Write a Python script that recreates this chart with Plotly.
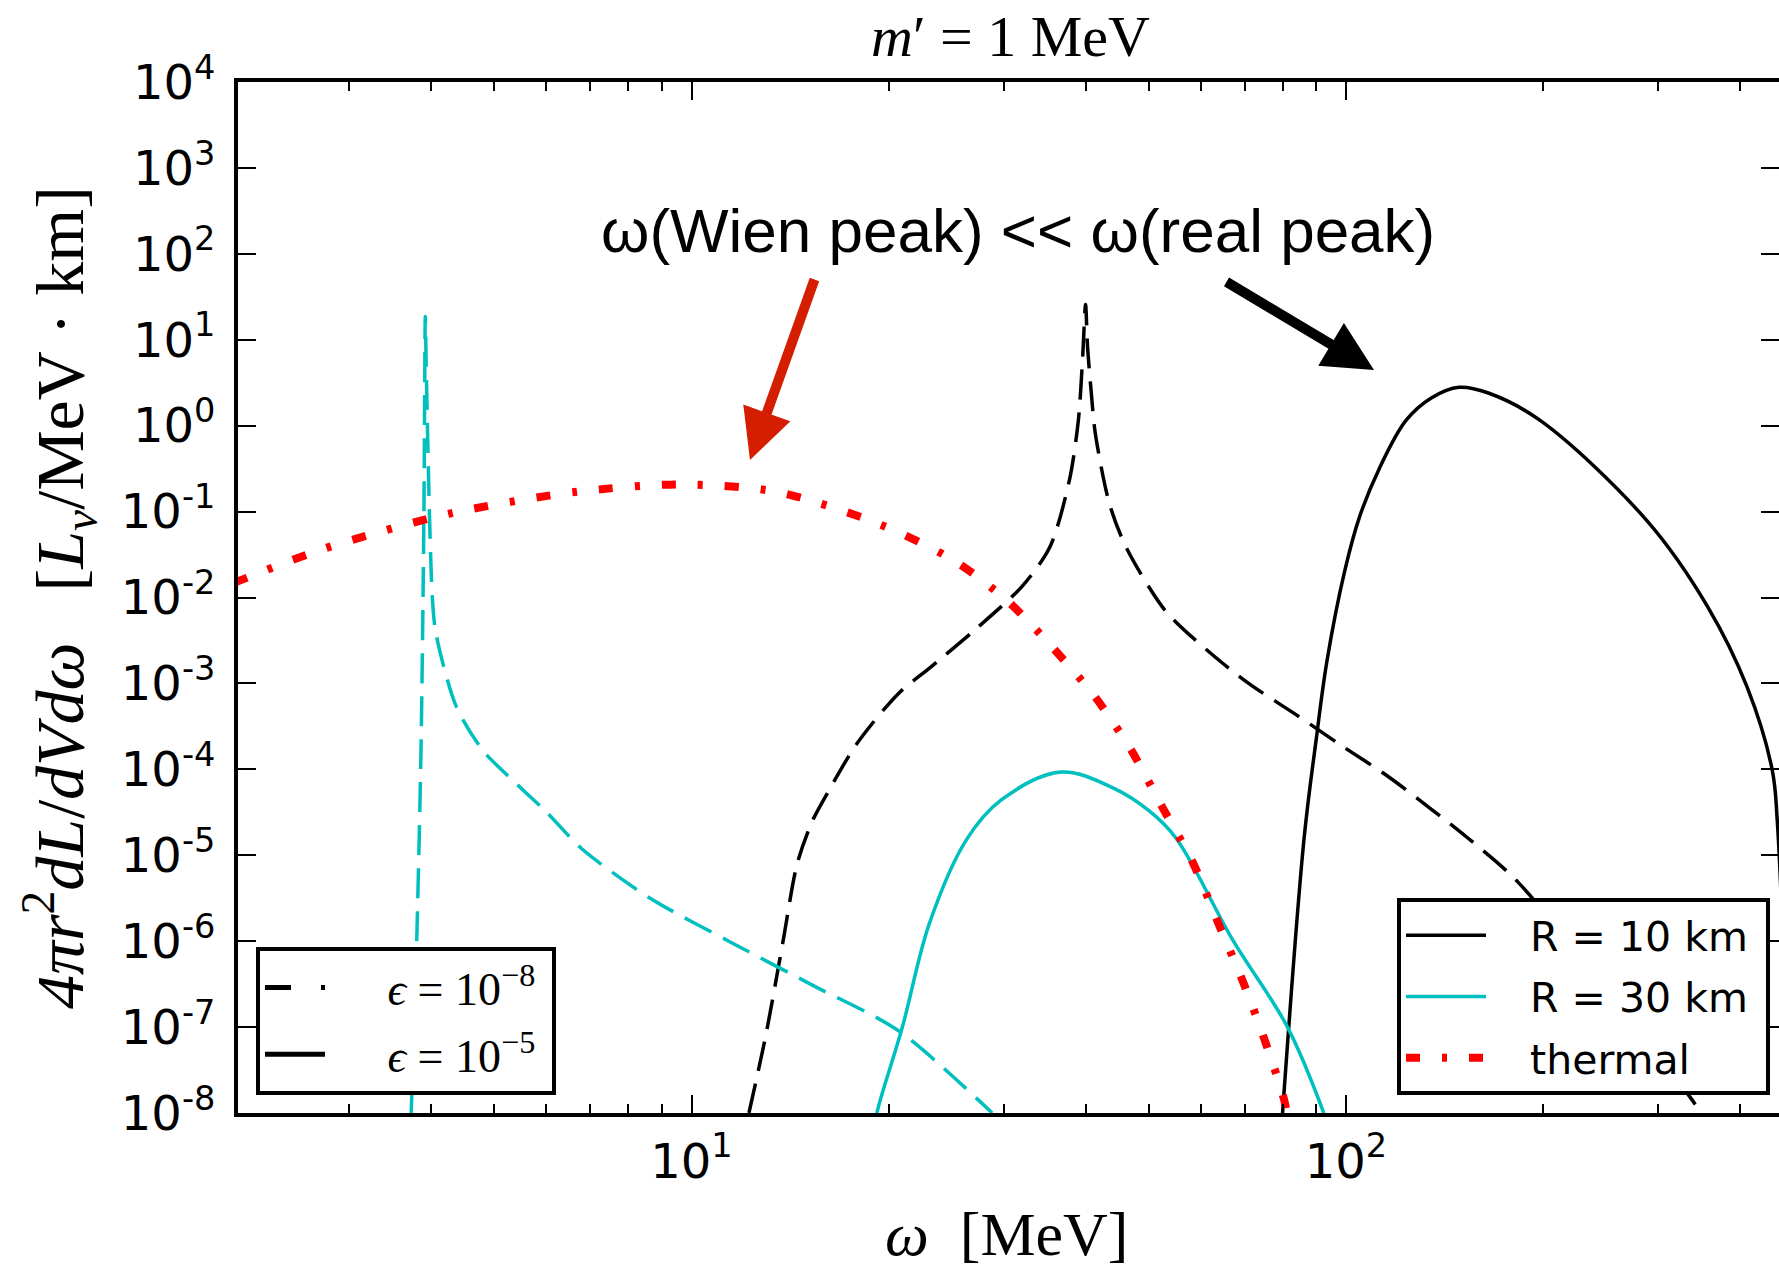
import math
import plotly.graph_objects as go

# ---------------- data ----------------
# thermal spectrum (red dash-dot)
w_thermal = [2.0, 2.75, 4.29, 6.68, 9.6, 13.5, 19.4, 25.3, 30.5, 35.7, 41.4, 47.0,
             52.4, 58.4, 63.9, 69.8, 75.4, 80.7, 82.0]
L_thermal = [1.48e-2, 3.72e-2, 9.55e-2, 0.170, 0.207, 0.170, 7.1e-2, 2.63e-2, 8.9e-3,
             2.57e-3, 6.9e-4, 1.66e-4, 3.63e-5, 8.1e-6, 1.58e-6, 3.2e-7, 6.5e-8,
             1.29e-8, 5.0e-9]

# R = 30 km, eps = 1e-5 (cyan solid)
w_r30_e5 = [19.1, 19.2, 21.0, 23.1, 26.3, 29.7, 36.7, 44.2, 50.0, 55.0, 67.2, 81.4, 92.5]
L_r30_e5 = [7e-9, 1.0e-8, 1.0e-7, 1.62e-6, 1.51e-5, 4.37e-5, 9.3e-5, 6.0e-5, 3.3e-5,
            1.58e-5, 1.02e-6, 1.0e-7, 1.0e-8]

# R = 30 km, eps = 1e-8 (cyan dashed)
w_r30_e8 = [3.73, 3.80, 3.86, 3.90, 3.92, 3.93, 3.98, 4.02, 4.07, 4.37, 4.8, 5.25,
            6.0, 6.79, 8.62, 11.4, 15.4, 20.7, 28.8]
L_r30_e8 = [1.0e-8, 7.9e-7, 1.5e-4, 7.9e-2, 18.6, 6.3, 7.9e-2, 9.3e-3, 3.8e-3, 5.4e-4,
            1.66e-4, 8.3e-5, 3.2e-5, 1.2e-5, 3.2e-6, 1.0e-6, 3.0e-7, 9.1e-8, 1.0e-8]

# R = 10 km, eps = 1e-8 (black dashed)
w_r10_e8 = [12.24, 13.0, 13.8, 14.5, 15.3, 16.2, 17.9, 20.7, 23.2, 27.1, 32.0, 35.3,
            37.8, 39.0, 39.6, 40.0, 40.3, 40.8, 41.4, 43.5, 46.1, 52.9, 61.3, 71.0,
            84.0, 98.3, 116.4, 134.6, 153.0, 183.0, 336.0, 352.0]
L_r10_e8 = [1.0e-8, 8.3e-8, 1.0e-6, 7.9e-6, 2.5e-5, 5.6e-5, 2.0e-4, 7.6e-4, 1.55e-3,
            4.2e-3, 1.35e-2, 3.9e-2, 0.234, 1.15, 6.3, 25.7, 7.9, 2.5, 0.81, 0.124,
            3.9e-2, 7.1e-3, 2.45e-3, 1.0e-3, 4.3e-4, 1.9e-4, 8.1e-5, 3.5e-5, 1.62e-5,
            4.9e-6, 1.51e-8, 8.9e-9]

# R = 10 km, eps = 1e-5 (black solid)
w_r10_e5 = [80.0, 86.3, 90.1, 93.5, 99.5, 105.0, 112.5, 123.5, 135.0, 148.8, 165.0,
            198.0, 288.0, 357.0, 410.0, 448.0, 456.0, 480.0]
L_r10_e5 = [1.0e-8, 1.58e-5, 2.3e-4, 1.8e-3, 2.0e-2, 0.089, 0.32, 1.15, 2.1, 2.8, 2.4,
            1.15, 7.9e-2, 7.8e-3, 9.1e-4, 9.8e-5, 2.5e-5, 1e-9]

y_tick_exps = list(range(-8, 5))
x_major = [10, 100]
x_major_text = ["10<sup>1</sup>", "10<sup>2</sup>"]
x_minor = [2, 3, 4, 5, 6, 7, 8, 9, 20, 30, 40, 50, 60, 70, 80, 90, 200, 300, 400]

NB = "\u00a0"
legend_main = ["R = 10 km", "R = 30 km", "thermal"]
legend_eps = ["<i>ϵ</i> = 10<sup>−8</sup>", "<i>ϵ</i> = 10<sup>−5</sup>"]

# ---------------- layout geometry ----------------
W, H = 1779, 1274
PL, PR, PT, PB = 238, 1779, 82, 1113
X_LEFT_LOG = 0.3071          # axis starts just above omega = 2 MeV
X_RIGHT_LOG = 2.6616         # axis is cut by the right image edge


def px(xp):
    return (xp - PL) / (PR - PL)


def py(yp):
    return (PB - yp) / (PB - PT)


CYAN = "#00bfbf"
RED = "#ff0000"
DASH = "30px,13px"
THERMAL_DASH = "14px,22px,5px,22px"
SANS = "DejaVu Sans, Liberation Sans, sans-serif"
SERIF = "Liberation Serif, DejaVu Serif, serif"

fig = go.Figure()

fig.add_trace(go.Scatter(x=w_r10_e8, y=L_r10_e8, mode="lines",
                         line=dict(color="black", width=3.5, dash=DASH,
                                   shape="spline", smoothing=0.8),
                         showlegend=False))
fig.add_trace(go.Scatter(x=w_r30_e8, y=L_r30_e8, mode="lines",
                         line=dict(color=CYAN, width=3.5, dash=DASH,
                                   shape="spline", smoothing=0.8),
                         showlegend=False))
fig.add_trace(go.Scatter(x=w_r10_e5, y=L_r10_e5, mode="lines",
                         name=NB * 3 + legend_main[0] + NB,
                         line=dict(color="black", width=3.5, shape="spline", smoothing=1.0),
                         legend="legend", legendgroup="a"))
fig.add_trace(go.Scatter(x=w_r30_e5, y=L_r30_e5, mode="lines",
                         name=NB * 3 + legend_main[1] + NB,
                         line=dict(color=CYAN, width=3.5, shape="spline", smoothing=1.0),
                         legend="legend", legendgroup="b"))
fig.add_trace(go.Scatter(x=w_thermal, y=L_thermal, mode="lines",
                         name=NB * 3 + legend_main[2],
                         line=dict(color=RED, width=8, dash=THERMAL_DASH,
                                   shape="spline", smoothing=0.8),
                         legend="legend", legendgroup="c"))
# proxy entries for the epsilon legend
fig.add_trace(go.Scatter(x=[None], y=[None], mode="lines",
                         name=NB * 5 + legend_eps[0] + NB,
                         line=dict(color="black", width=5, dash="26px,30px"),
                         legend="legend2", legendgroup="d"))
fig.add_trace(go.Scatter(x=[None], y=[None], mode="lines",
                         name=NB * 5 + legend_eps[1] + NB,
                         line=dict(color="black", width=5),
                         legend="legend2", legendgroup="e"))
# empty trace that carries the right-hand tick axis
fig.add_trace(go.Scatter(x=[None], y=[None], yaxis="y2", mode="lines",
                         showlegend=False, hoverinfo="skip"))

tickfont = dict(family=SANS, size=48, color="black")
y_vals = [10.0 ** e for e in y_tick_exps]

fig.update_xaxes(type="log", range=[X_LEFT_LOG, X_RIGHT_LOG],
                 tickmode="array", tickvals=x_major, ticktext=x_major_text,
                 ticks="inside", ticklen=18, tickwidth=2, tickcolor="black",
                 ticklabelstandoff=3, tickfont=tickfont,
                 showgrid=False, zeroline=False, showline=True, linewidth=4,
                 linecolor="black", mirror="ticks",
                 minor=dict(tickmode="array", tickvals=x_minor, ticks="inside",
                            ticklen=9, tickwidth=2, tickcolor="black"))

fig.update_layout(
    yaxis=dict(type="log", range=[-8, 4], tickmode="array", tickvals=y_vals,
               ticktext=["10<sup>%d</sup>" % e for e in y_tick_exps],
               ticks="inside", ticklen=18, tickwidth=2, tickcolor="black",
               ticklabelstandoff=9, tickfont=tickfont,
               showgrid=False, zeroline=False, showline=True, linewidth=4,
               linecolor="black", mirror=False),
    yaxis2=dict(type="log", range=[-8, 4], overlaying="y", side="right",
                tickmode="array", tickvals=y_vals, showticklabels=False,
                ticks="inside", ticklen=18, tickwidth=2, tickcolor="black",
                showgrid=False, zeroline=False, showline=False),
)

annotations = [
    dict(text="<i>m</i>′ = 1 MeV", x=px(1010), y=py(37), xref="paper", yref="paper",
         showarrow=False, xanchor="center", yanchor="middle",
         font=dict(family=SERIF, size=58, color="black")),
    dict(text="<i>ω</i>  [MeV]", x=px(1007), y=py(1234), xref="paper", yref="paper",
         showarrow=False, xanchor="center", yanchor="middle",
         font=dict(family=SERIF, size=62, color="black")),
    dict(text="<i>4πr</i><sup>2</sup><i>dL</i>/<i>dVdω</i>   [<i>L<sub>ν</sub></i>/MeV · km]",
         x=px(59), y=py(598), xref="paper", yref="paper", textangle=-90,
         showarrow=False, xanchor="center", yanchor="middle",
         font=dict(family=SERIF, size=68, color="black")),
    dict(text="ω(Wien peak) << ω(real peak)", x=px(1018), y=py(230),
         xref="paper", yref="paper", showarrow=False, xanchor="center", yanchor="middle",
         font=dict(family="Liberation Sans, Arial, sans-serif", size=62, color="black")),
    dict(text="", x=px(750), y=py(460), xref="paper", yref="paper",
         showarrow=True, ax=65, ay=-182, arrowhead=2, arrowsize=1.0, arrowwidth=10,
         arrowcolor="#d51e00", standoff=0),
    dict(text="", x=px(1374), y=py(370), xref="paper", yref="paper",
         showarrow=True, ax=-149, ay=-89, arrowhead=2, arrowsize=1.0, arrowwidth=10,
         arrowcolor="black", standoff=0),
]

fig.update_layout(
    width=W, height=H, autosize=False,
    margin=dict(l=PL, r=W - PR, t=PT, b=H - PB, pad=0),
    paper_bgcolor="white", plot_bgcolor="white",
    font=dict(family=SANS, color="black"),
    annotations=annotations,
    legend=dict(x=px(1770), y=py(1095), xanchor="right", yanchor="bottom",
                bgcolor="white", bordercolor="black", borderwidth=4,
                font=dict(family=SANS, size=41, color="black"),
                itemwidth=80, tracegroupgap=5, traceorder="grouped"),
    legend2=dict(x=px(256), y=py(1095), xanchor="left", yanchor="bottom",
                 bgcolor="white", bordercolor="black", borderwidth=4,
                 font=dict(family=SERIF, size=46, color="black"),
                 itemwidth=60, tracegroupgap=4, traceorder="grouped"),
)

fig.write_html("out.html",
               config={"displayModeBar": False},
               post_script="document.body.style.margin='0px';"
                           "document.body.style.overflow='hidden';")
